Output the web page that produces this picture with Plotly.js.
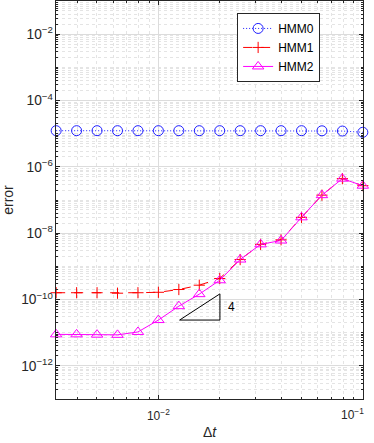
<!DOCTYPE html>
<html>
<head>
<meta charset="utf-8">
<script src="https://cdn.plot.ly/plotly-3.0.1.min.js"></script>
<style>
  html, body { margin: 0; padding: 0; background: #fff; }
  #chart { width: 374px; height: 443px; }
</style>
</head>
<body>
<div id="chart"></div>
<script>
// time steps: 10^(-2.5) ... 10^(-1)
const dt = [0.003162, 0.003981, 0.005012, 0.00631, 0.007943, 0.01, 0.01259, 0.01585,
            0.01995, 0.02512, 0.03162, 0.03981, 0.05012, 0.0631, 0.07943, 0.1];

const hmm0 = [1.23e-5, 1.23e-5, 1.23e-5, 1.23e-5, 1.23e-5, 1.23e-5, 1.23e-5, 1.23e-5,
              1.23e-5, 1.23e-5, 1.23e-5, 1.23e-5, 1.23e-5, 1.22e-5, 1.2e-5, 1.1e-5];
const hmm1 = [1.6e-10, 1.6e-10, 1.6e-10, 1.55e-10, 1.6e-10, 1.65e-10, 2.0e-10, 2.7e-10,
              4.3e-10, 1.6e-9, 4.6e-9, 6.3e-9, 3.0e-8, 1.4e-7, 4.4e-7, 2.7e-7];
const hmm2 = [8.9e-12, 8.9e-12, 8.7e-12, 8.6e-12, 1.05e-11, 2.4e-11, 6.3e-11, 1.45e-10,
              3.8e-10, 1.6e-9, 4.6e-9, 6.0e-9, 3.0e-8, 1.4e-7, 4.4e-7, 2.7e-7];

const xTicks = [0.01, 0.1];
const lastTickText = '10<sup>\u22121</sup>';

// slope-4 reference triangle
const triX = [0.0127, 0.02, 0.02, 0.0127];
const triY = [2.4e-11, 2.4e-11, 1.48e-10, 2.4e-11];

const axisCol = '#262626';

const traces = [
  {
    x: dt, y: hmm0, name: 'HMM0', type: 'scatter', mode: 'lines+markers', cliponaxis: false,
    line: { color: '#1f1fff', width: 1, dash: '1px,2px' },
    marker: { symbol: 'circle-open', size: 10, color: '#1f1fff', line: { width: 1 } }
  },
  {
    x: dt, y: hmm1, name: 'HMM1', type: 'scatter', mode: 'lines+markers', cliponaxis: false,
    line: { color: '#ff0000', width: 1, dash: 'dash' },
    marker: { symbol: 'cross-thin-open', size: 8, color: '#ff0000', line: { width: 1, color: '#ff0000' } }
  },
  {
    x: dt, y: hmm2, name: 'HMM2', type: 'scatter', mode: 'lines+markers', cliponaxis: false,
    line: { color: '#ff00ff', width: 1 },
    marker: { symbol: 'triangle-up-open', size: 10, color: '#ff00ff', line: { width: 1 } }
  },
  {
    x: triX, y: triY, type: 'scatter', mode: 'lines', showlegend: false, hoverinfo: 'skip',
    line: { color: '#000000', width: 1 }
  }
];

const layout = {
  width: 374, height: 443,
  margin: { l: 56, r: 11, t: 1, b: 44 },
  paper_bgcolor: '#fff', plot_bgcolor: '#fff',
  font: { family: 'Liberation Sans, Arial, sans-serif', size: 12, color: axisCol },
  showlegend: true,
  legend: {
    x: 0.59, y: 0.97, xanchor: 'left', yanchor: 'top',
    bgcolor: '#fff', bordercolor: axisCol, borderwidth: 1,
    font: { size: 12, color: '#000' }, tracegroupgap: 0, itemwidth: 30
  },
  xaxis: {
    type: 'log', range: [-2.5008, -0.9992],
    tickmode: 'array', tickvals: xTicks, ticktext: ['10<sup>\u22122</sup>', ''],
    showline: true, linecolor: axisCol, linewidth: 1, mirror: 'ticks',
    ticks: 'inside', ticklen: 4, tickcolor: axisCol,
    showgrid: true, gridcolor: '#dcdcdc', gridwidth: 1,
    zeroline: false, ticklabelstandoff: 6,
    minor: { dtick: 'D1', ticks: 'inside', ticklen: 2, tickcolor: axisCol,
             showgrid: true, gridcolor: '#e4e4e4', griddash: 'dot', gridwidth: 1 },
    title: { text: '\u0394<i>t</i>', font: { size: 14, color: axisCol }, standoff: 4 },
    tickfont: { size: 12, color: axisCol }
  },
  yaxis: {
    type: 'log', range: [-13, -1], dtick: 2, exponentformat: 'power',
    showline: true, linecolor: axisCol, linewidth: 1, mirror: 'ticks',
    ticks: 'inside', ticklen: 4, tickcolor: axisCol,
    showgrid: true, gridcolor: '#dcdcdc', gridwidth: 1,
    zeroline: false,
    minor: { dtick: 'D1', ticks: 'inside', ticklen: 2, tickcolor: axisCol,
             showgrid: true, gridcolor: '#e4e4e4', griddash: 'dot', gridwidth: 1 },
    title: { text: 'error', font: { size: 14, color: axisCol }, standoff: 7 },
    tickfont: { size: 11, color: axisCol }
  },
  annotations: [
    { x: Math.log10(0.0215), y: Math.log10(5.8e-11), xref: 'x', yref: 'y', text: '4',
      showarrow: false, xanchor: 'left', font: { size: 12, color: '#000' } },
    // last x tick label, pulled inward so it stays on the page
    { x: 1, y: 0, xref: 'paper', yref: 'paper', xanchor: 'right', yanchor: 'top',
      xshift: 3, yshift: -5, text: lastTickText, showarrow: false,
      font: { size: 12, color: axisCol } }
  ]
};

Plotly.newPlot('chart', traces, layout, { displayModeBar: false, staticPlot: true });
</script>
</body>
</html>
